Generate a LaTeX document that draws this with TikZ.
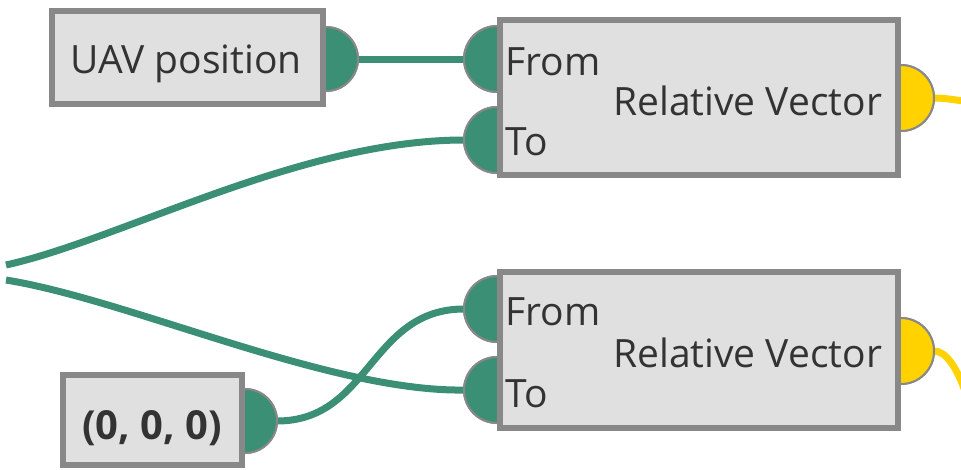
\documentclass[tikz,border=0pt]{standalone}
\usepackage{fontspec}
\setmainfont{Open Sans}
\definecolor{wiregreen}{RGB}{58,143,116}
\definecolor{portyellow}{RGB}{255,210,0}
\definecolor{boxfill}{RGB}{224,224,224}
\definecolor{boxline}{RGB}{136,136,136}
\definecolor{txt}{RGB}{51,51,51}
\tikzset{
  boxnode/.style={draw=boxline, fill=boxfill, line width=6pt, rectangle, inner sep=0pt, outer sep=0pt},
  gport/.style={circle, draw=boxline, fill=wiregreen, line width=2pt, minimum size=#1, inner sep=0pt, outer sep=0pt},
  yport/.style={circle, draw=boxline, fill=portyellow, line width=2pt, minimum size=#1, inner sep=0pt, outer sep=0pt},
  gwire/.style={draw=wiregreen, line width=7pt},
  ywire/.style={draw=portyellow, line width=7pt},
  lbl/.style={anchor=base west, inner sep=0pt, text=txt, font=\fontsize{39}{45}\selectfont},
}
\begin{document}
\begin{tikzpicture}[x=1pt, y=-1pt]
\useasboundingbox (0,0) rectangle (961,469);
\clip (0,0) rectangle (961,469);
\fill[white] (0,0) rectangle (961,469);
% ports
\node[gport=64pt] (uavout) at (326,59) {};
\node[gport=66pt] (rv1from) at (497,59) {};
\node[gport=66pt] (rv1to) at (497,140) {};
\node[yport=66pt] (rv1out) at (901,98) {};
\node[gport=66pt] (rv2from) at (497,309) {};
\node[gport=66pt] (rv2to) at (497,390) {};
\node[yport=66pt] (rv2out) at (901,351) {};
\node[gport=64pt] (zeroout) at (245,421) {};
% free ends
\coordinate (srcA) at (6,265);
\coordinate (srcB) at (6,280);
\coordinate (yA) at (964,101);
\coordinate (yB) at (968,400);
% wires
\draw[gwire] (uavout.east) -- (rv1from.west);
\draw[gwire] (srcA) .. controls (120,240) and (300,140) .. (rv1to.west);
\draw[gwire] (srcB) .. controls (130,300) and (330,392) .. (rv2to.west);
\draw[gwire] (zeroout.east) .. controls (370,421) and (370,309) .. (rv2from.west);
\draw[ywire] (rv1out.east) .. controls (945,98) and (955,100) .. (yA);
\draw[ywire] (rv2out.east) .. controls (946,351) and (958,368) .. (yB);
% redraw ports over wire ends
\node[gport=64pt] at (uavout) {};
\node[gport=66pt] at (rv1from) {};
\node[gport=66pt] at (rv1to) {};
\node[yport=66pt] at (rv1out) {};
\node[gport=66pt] at (rv2from) {};
\node[gport=66pt] at (rv2to) {};
\node[yport=66pt] at (rv2out) {};
\node[gport=64pt] at (zeroout) {};
% boxes
\node[boxnode, minimum width=271pt, minimum height=93pt] (uav) at (187.5,57.5) {};
\node[boxnode, minimum width=398pt, minimum height=155pt] (rv1) at (699,97.5) {};
\node[boxnode, minimum width=398pt, minimum height=156pt] (rv2) at (699,350) {};
\node[boxnode, minimum width=179pt, minimum height=90pt] (zero) at (152.5,420) {};
% labels
\node[lbl] (tuav) at (70,73) {UAV position};
\node[lbl] (tf1) at (505,75) {From};
\node[lbl] (tt1) at (505,155) {To};
\node[lbl] (tr1) at (613,115) {Relative Vector};
\node[lbl] (tf2) at (505,325) {From};
\node[lbl] (tt2) at (505,407) {To};
\node[lbl] (tr2) at (613,367) {Relative Vector};
\node[lbl, font=\bfseries\fontsize{40}{46}\selectfont] (tzero) at (82,439) {(0, 0, 0)};
\end{tikzpicture}
\end{document}
